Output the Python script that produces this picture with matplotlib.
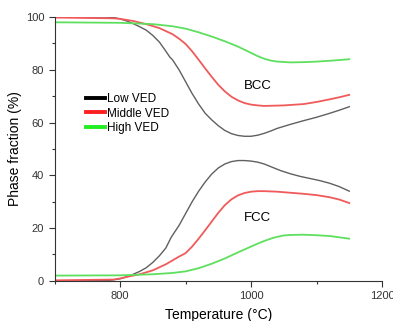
import matplotlib
matplotlib.use("Agg")
import matplotlib.pyplot as plt
from matplotlib.lines import Line2D
from matplotlib.ticker import MultipleLocator

plt.rcParams["font.family"] = ["Liberation Sans", "DejaVu Sans"]

# BCC phase fraction (%) vs temperature
t_low_bcc = [700, 780, 790, 800, 810, 820, 830, 840, 850, 860, 870, 876, 880, 890, 900, 910,
             920, 930, 940, 950, 960, 970, 980, 990, 1000, 1010, 1020, 1030, 1040, 1060,
             1080, 1100, 1120, 1135, 1150]
low_bcc = [100, 100, 99.8, 99.3, 98.5, 97.5, 96.3, 95, 93, 90.5, 87, 84.8, 83.8, 80, 75.5, 71,
           67, 63.5, 61, 58.8, 57, 55.8, 55.1, 54.8, 54.8, 55.2, 55.9, 56.8, 57.8, 59.3,
           60.7, 62, 63.5, 64.7, 66]

t_mid_bcc = [700, 790, 800, 820, 840, 860, 880, 890, 900, 910, 920, 930, 940, 950, 960, 970,
             980, 990, 1000, 1010, 1020, 1050, 1080, 1100, 1120, 1135, 1150]
mid_bcc = [99.8, 99.5, 99.3, 98.5, 97.3, 95.8, 93.5, 91.8, 89.8, 87, 83.8, 80.5, 77.3, 74.3,
           71.8, 69.8, 68.4, 67.4, 66.8, 66.5, 66.3, 66.5, 67, 67.8, 68.8, 69.6, 70.5]

t_high_bcc = [700, 800, 850, 880, 900, 920, 940, 960, 980, 990, 1000, 1010, 1020, 1030,
              1040, 1060, 1080, 1100, 1125, 1150]
high_bcc = [98, 97.8, 97.3, 96.5, 95.6, 94.2, 92.6, 90.8, 88.8, 87.6, 86.4, 85.2, 84.2,
            83.5, 83.1, 82.8, 82.9, 83.1, 83.5, 84]

# FCC phase fraction (%)
t_low_fcc = [700, 780, 790, 800, 810, 820, 830, 840, 850, 860, 870, 874, 878, 890, 900,
             910, 920, 930, 940, 950, 960, 970, 980, 990, 1000, 1010, 1020, 1030, 1045,
             1060, 1075, 1090, 1105, 1120, 1135, 1150]
low_fcc = [0, 0.1, 0.4, 0.8, 1.5, 2.5, 3.6, 5, 7, 9.5, 12.5, 14.5, 16.5, 21, 25.5,
           30, 34, 37.5, 40.5, 42.8, 44.3, 45.2, 45.6, 45.6, 45.4, 45, 44.3, 43.3, 41.8,
           40.6, 39.6, 38.8, 38, 37, 35.7, 34]

t_mid_fcc = [700, 790, 800, 810, 830, 850, 870, 890, 900, 910, 920, 930, 940, 950, 960, 970,
             980, 990, 1000, 1010, 1020, 1040, 1060, 1080, 1100, 1120, 1135, 1150]
mid_fcc = [0.2, 0.5, 0.9, 1.5, 2.5, 4, 6.3, 9.2, 10.5, 13, 16, 19.2, 22.5, 25.8, 28.7, 30.9,
           32.4, 33.3, 33.8, 34, 34, 33.8, 33.4, 33, 32.5, 31.7, 30.8, 29.5]

t_high_fcc = [700, 800, 850, 880, 900, 920, 940, 960, 980, 1000, 1010, 1020, 1030, 1040,
              1050, 1060, 1080, 1100, 1120, 1135, 1150]
high_fcc = [2, 2.1, 2.5, 3, 3.6, 4.8, 6.5, 8.5, 10.8, 13, 14.1, 15.1, 16, 16.7,
            17.2, 17.4, 17.5, 17.3, 17, 16.5, 16]

series_labels = ["Low VED", "Middle VED", "High VED"]
line_colors = ["#606060", "#f05a5a", "#5ee05e"]
legend_colors = ["#000000", "#ff2020", "#22ee22"]

fig = plt.figure(figsize=(3.93, 3.21), dpi=100)
ax = fig.add_axes([0.139, 0.125, 0.833, 0.822])

ax.plot(t_low_bcc, low_bcc, color=line_colors[0], lw=1.0)
ax.plot(t_mid_bcc, mid_bcc, color=line_colors[1], lw=1.3)
ax.plot(t_high_bcc, high_bcc, color=line_colors[2], lw=1.3)
ax.plot(t_low_fcc, low_fcc, color=line_colors[0], lw=1.0)
ax.plot(t_mid_fcc, mid_fcc, color=line_colors[1], lw=1.3)
ax.plot(t_high_fcc, high_fcc, color=line_colors[2], lw=1.3)

ax.text(1011, 74, "BCC", fontsize=9.5, ha="center", va="center")
ax.text(1009, 24, "FCC", fontsize=9.5, ha="center", va="center")

handles = [Line2D([], [], color=c, lw=2.8) for c in legend_colors]
ax.legend(handles, series_labels, loc="upper left", bbox_to_anchor=(0.095, 0.712),
          frameon=False, fontsize=8.5, handlelength=1.6, handletextpad=0.2,
          labelspacing=0.22, borderpad=0, borderaxespad=0)

ax.set_xlim(700, 1200)
ax.set_ylim(0, 100)
ax.set_xticks([800, 1000, 1200])
ax.xaxis.set_minor_locator(MultipleLocator(100))
ax.yaxis.set_major_locator(MultipleLocator(20))
ax.yaxis.set_minor_locator(MultipleLocator(10))
ax.tick_params(which="major", direction="out", length=4, width=0.8, labelsize=8,
               colors="#333333", labelcolor="#333333")
ax.tick_params(which="minor", direction="out", length=2.5, width=0.8, colors="#333333")
for side in ["top", "right"]:
    ax.spines[side].set_visible(False)
for side in ["left", "bottom"]:
    ax.spines[side].set_color("#333333")
    ax.spines[side].set_linewidth(0.8)

ax.set_xlabel("Temperature (°C)", fontsize=10, labelpad=5)
ax.set_ylabel("Phase fraction (%)", fontsize=10, labelpad=3)

fig.savefig("out.png", dpi=100)
